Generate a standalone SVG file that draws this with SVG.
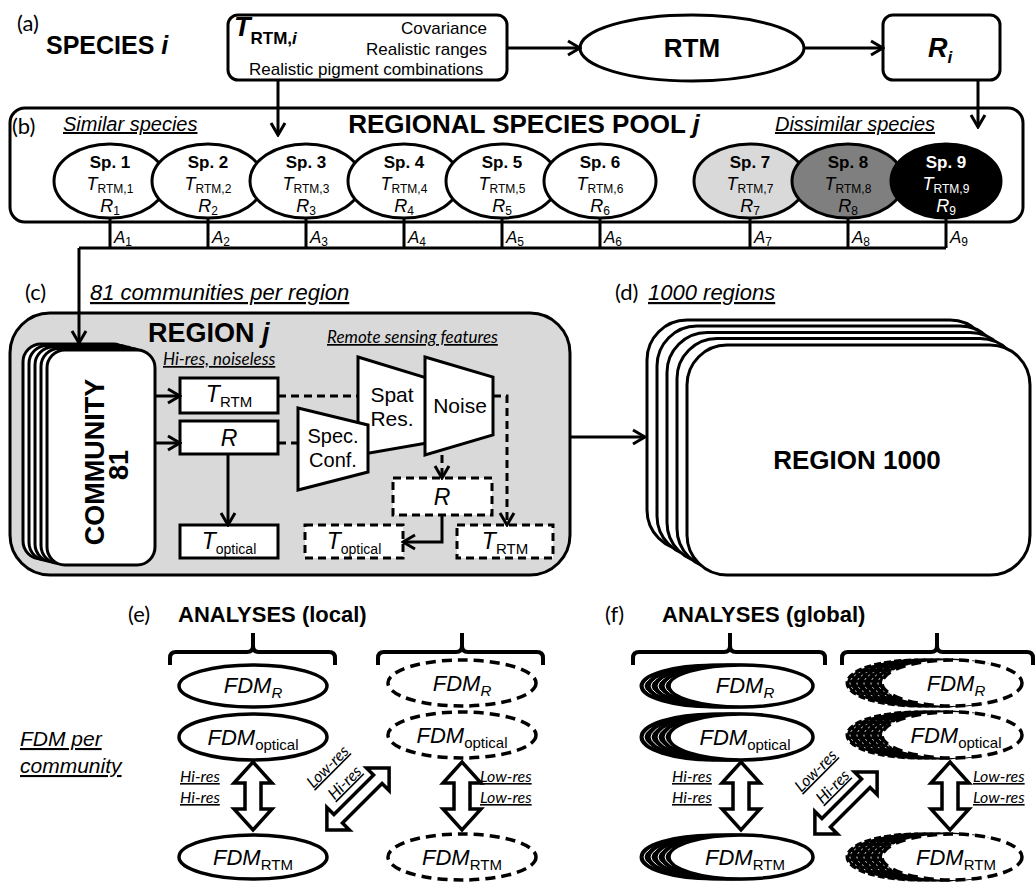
<svg xmlns="http://www.w3.org/2000/svg" width="1035" height="882" viewBox="0 0 1035 882">
<defs>
<style>
.t{font-family:"Liberation Sans",Arial,sans-serif;fill:#000}
.b{font-weight:bold}
.i{font-style:italic}
.n{font-style:normal}
.c{font-family:Lato,"Open Sans",sans-serif;fill:#000}
.u{text-decoration:underline}
.box{fill:#fff;stroke:#000;stroke-width:3}
.dbox{fill:#fff;stroke:#000;stroke-width:3;stroke-dasharray:8 5}
.ln{fill:none;stroke:#000;stroke-width:3}
.dl{fill:none;stroke:#000;stroke-width:3;stroke-dasharray:8 5}
.br{fill:none;stroke:#000;stroke-width:4;stroke-linejoin:round}
.dar{fill:#fff;stroke:#000;stroke-width:3.5;stroke-linejoin:miter}
.fe{fill:#fff;stroke:#000;stroke-width:3.5}
.fd{fill:#fff;stroke:#000;stroke-width:3.5;stroke-dasharray:10 6}
.sh{fill:#000;stroke:#000;stroke-width:3}
.shd{fill:#000;stroke:#000;stroke-width:3;stroke-dasharray:7 3}
.wl{fill:none;stroke:#fff;stroke-width:1}
.wd{fill:none;stroke:#fff;stroke-width:1;stroke-dasharray:2 3}
.sp{font-size:17px}
.st{font-size:18px}
.ss{font-size:12px}
</style>
<marker id="ah" viewBox="0 0 16 18" refX="14" refY="9" markerWidth="16" markerHeight="18" markerUnits="userSpaceOnUse" orient="auto"><path d="M2,2 L14,9 L2,16" fill="none" stroke="#000" stroke-width="3"/></marker>
<path id="va" d="M0,-34 L19,-13 L8,-13 L8,13 L19,13 L0,34 L-19,13 L-8,13 L-8,-13 L-19,-13 Z"/>
<path id="da" d="M-44,0 L-28,-16 L-28,-6 L28,-6 L28,-16 L44,0 L28,16 L28,6 L-28,6 L-28,16 Z"/>
</defs>
<rect width="1035" height="882" fill="#fff"/>

<!-- (a) -->
<g id="species">
<text x="17" y="31" class="c" font-size="22">(a)</text>
<text x="46" y="54" class="t b" font-size="25">SPECIES <tspan class="i">i</tspan></text>
</g>
<g id="traits">
<rect x="228" y="15" width="279" height="65" rx="10" class="box"/>
<text x="234" y="36" class="t b i" font-size="27">T<tspan class="n" font-size="17" dy="8">RTM,</tspan><tspan font-size="17">i</tspan></text>
<text x="487" y="34" class="t" font-size="17" text-anchor="end">Covariance</text>
<text x="487" y="55" class="t" font-size="17" text-anchor="end">Realistic ranges</text>
<text x="249" y="75" class="t" font-size="17">Realistic pigment combinations</text>
</g>
<g id="rtm">
<ellipse cx="692" cy="48" rx="112" ry="33" class="box"/>
<text x="692" y="57" class="t b" font-size="26" text-anchor="middle">RTM</text>
</g>
<g id="refl">
<rect x="883" y="15" width="117" height="65" rx="10" class="box"/>
<text x="940" y="57" class="t b i" font-size="27" text-anchor="middle">R<tspan font-size="17" dy="6">i</tspan></text>
</g>

<!-- (b) -->
<g id="pool">
<rect x="10" y="108" width="1013" height="114" rx="15" class="box"/>
<text x="12" y="134" class="c" font-size="22">(b)</text>
<text x="63" y="131" class="t i u" font-size="20">Similar species</text>
<text x="524" y="133" class="t b" font-size="26" text-anchor="middle">REGIONAL SPECIES POOL <tspan class="i">j</tspan></text>
<text x="935" y="131" class="t i u" font-size="20" text-anchor="end">Dissimilar species</text>
</g>
<g id="sp1"><ellipse cx="110" cy="181" rx="56" ry="37" class="box"/><text x="110" y="168" class="t b sp" text-anchor="middle">Sp. 1</text><text x="110" y="190" class="t i st" text-anchor="middle">T<tspan class="n ss" dy="3">RTM,1</tspan></text><text x="110" y="212" class="t i st" text-anchor="middle">R<tspan class="n ss" dy="3">1</tspan></text></g>
<g id="sp2"><ellipse cx="208" cy="181" rx="56" ry="37" class="box"/><text x="208" y="168" class="t b sp" text-anchor="middle">Sp. 2</text><text x="208" y="190" class="t i st" text-anchor="middle">T<tspan class="n ss" dy="3">RTM,2</tspan></text><text x="208" y="212" class="t i st" text-anchor="middle">R<tspan class="n ss" dy="3">2</tspan></text></g>
<g id="sp3"><ellipse cx="306" cy="181" rx="56" ry="37" class="box"/><text x="306" y="168" class="t b sp" text-anchor="middle">Sp. 3</text><text x="306" y="190" class="t i st" text-anchor="middle">T<tspan class="n ss" dy="3">RTM,3</tspan></text><text x="306" y="212" class="t i st" text-anchor="middle">R<tspan class="n ss" dy="3">3</tspan></text></g>
<g id="sp4"><ellipse cx="404" cy="181" rx="56" ry="37" class="box"/><text x="404" y="168" class="t b sp" text-anchor="middle">Sp. 4</text><text x="404" y="190" class="t i st" text-anchor="middle">T<tspan class="n ss" dy="3">RTM,4</tspan></text><text x="404" y="212" class="t i st" text-anchor="middle">R<tspan class="n ss" dy="3">4</tspan></text></g>
<g id="sp5"><ellipse cx="502" cy="181" rx="56" ry="37" class="box"/><text x="502" y="168" class="t b sp" text-anchor="middle">Sp. 5</text><text x="502" y="190" class="t i st" text-anchor="middle">T<tspan class="n ss" dy="3">RTM,5</tspan></text><text x="502" y="212" class="t i st" text-anchor="middle">R<tspan class="n ss" dy="3">5</tspan></text></g>
<g id="sp6"><ellipse cx="600" cy="181" rx="56" ry="37" class="box"/><text x="600" y="168" class="t b sp" text-anchor="middle">Sp. 6</text><text x="600" y="190" class="t i st" text-anchor="middle">T<tspan class="n ss" dy="3">RTM,6</tspan></text><text x="600" y="212" class="t i st" text-anchor="middle">R<tspan class="n ss" dy="3">6</tspan></text></g>
<g id="sp7"><ellipse cx="750" cy="181" rx="56" ry="37" class="box" style="fill:#d9d9d9"/><text x="750" y="168" class="t b sp" text-anchor="middle">Sp. 7</text><text x="750" y="190" class="t i st" text-anchor="middle">T<tspan class="n ss" dy="3">RTM,7</tspan></text><text x="750" y="212" class="t i st" text-anchor="middle">R<tspan class="n ss" dy="3">7</tspan></text></g>
<g id="sp8"><ellipse cx="848" cy="181" rx="56" ry="37" class="box" style="fill:#7f7f7f"/><text x="848" y="168" class="t b sp" text-anchor="middle">Sp. 8</text><text x="848" y="190" class="t i st" text-anchor="middle">T<tspan class="n ss" dy="3">RTM,8</tspan></text><text x="848" y="212" class="t i st" text-anchor="middle">R<tspan class="n ss" dy="3">8</tspan></text></g>
<g id="sp9"><ellipse cx="946" cy="181" rx="55" ry="37" class="box" style="fill:#000"/><text x="946" y="168" class="t b sp" text-anchor="middle" style="fill:#fff">Sp. 9</text><text x="946" y="190" class="t i st" text-anchor="middle" style="fill:#fff">T<tspan class="n ss" dy="3">RTM,9</tspan></text><text x="946" y="212" class="t i st" text-anchor="middle" style="fill:#fff">R<tspan class="n ss" dy="3">9</tspan></text></g>

<!-- (c) -->
<g id="region-j">
<text x="25" y="300" class="c" font-size="22">(c)</text>
<text x="90" y="300" class="t i u" font-size="22">81 communities per region</text>
<rect x="10" y="313" width="560" height="262" rx="40" class="box" style="fill:#d9d9d9"/>
<text x="148" y="342" class="t b" font-size="27">REGION <tspan class="i">j</tspan></text>
<text x="163" y="365" class="c i u" font-size="17">Hi-res, noiseless</text>
<text x="327" y="343" class="c i u" font-size="17">Remote sensing features</text>
</g>
<g id="community">
<rect x="23" y="344" width="108" height="215" rx="18" class="box"/>
<rect x="29" y="345.5" width="108" height="215" rx="18" class="box"/>
<rect x="35" y="347" width="108" height="215" rx="18" class="box"/>
<rect x="41" y="348.5" width="108" height="215" rx="18" class="box"/>
<rect x="47" y="350" width="108" height="215" rx="18" class="box"/>
<text transform="translate(104,462) rotate(-90)" class="t b" font-size="27" text-anchor="middle">COMMUNITY</text>
<text transform="translate(128,465) rotate(-90)" class="t b" font-size="27" text-anchor="middle">81</text>
</g>
<g id="trtm"><rect x="180" y="378" width="98" height="35" class="box"/><text x="229" y="402" class="t i" font-size="23" text-anchor="middle">T<tspan class="n" font-size="15" dy="5">RTM</tspan></text></g>
<g id="r"><rect x="180" y="421" width="98" height="33" class="box"/><text x="229" y="446" class="t i" font-size="23" text-anchor="middle">R</text></g>
<g id="topt"><rect x="180" y="525" width="98" height="33" class="box"/><text x="229" y="549" class="t i" font-size="23" text-anchor="middle">T<tspan class="n" font-size="14" dy="5">optical</tspan></text></g>
<g id="spatres"><path d="M358,357 L427,378 L427,443 L358,455 Z" class="box"/><text x="392" y="402" class="t" font-size="21" text-anchor="middle">Spat</text><text x="392" y="426" class="t" font-size="21" text-anchor="middle">Res.</text></g>
<g id="noise"><path d="M425,357 L493,377 L493,435 L425,455 Z" class="box"/><text x="460" y="413" class="t" font-size="21" text-anchor="middle">Noise</text></g>
<g id="specconf"><path d="M298,408 L368,425 L368,472 L298,490 Z" class="box"/><text x="333" y="443" class="t" font-size="20" text-anchor="middle">Spec.</text><text x="333" y="467" class="t" font-size="20" text-anchor="middle">Conf.</text></g>
<g id="r-low"><rect x="393" y="478" width="99" height="37" class="dbox"/><text x="442" y="505" class="t i" font-size="23" text-anchor="middle">R</text></g>
<g id="topt-low"><rect x="305" y="525" width="98" height="33" class="dbox"/><text x="354" y="549" class="t i" font-size="23" text-anchor="middle">T<tspan class="n" font-size="14" dy="5">optical</tspan></text></g>
<g id="trtm-low"><rect x="457" y="525" width="96" height="33" class="dbox"/><text x="505" y="549" class="t i" font-size="23" text-anchor="middle">T<tspan class="n" font-size="15" dy="5">RTM</tspan></text></g>

<!-- (d) -->
<g id="regions">
<text x="615" y="300" class="c" font-size="22">(d)</text>
<text x="648" y="300" class="t i u" font-size="22">1000 regions</text>
<rect x="647" y="320" width="343" height="230" rx="40" class="box"/>
<rect x="657" y="326" width="343" height="230" rx="40" class="box"/>
<rect x="667" y="332.5" width="343" height="230" rx="40" class="box"/>
<rect x="677" y="338.5" width="343" height="230" rx="40" class="box"/>
<rect x="687" y="345" width="343" height="230" rx="40" class="box"/>
<text x="857" y="469" class="t b" font-size="26" text-anchor="middle">REGION 1000</text>
</g>

<!-- (e) -->
<g id="analyses-local">
<text x="128" y="622" class="c" font-size="22">(e)</text>
<text x="178" y="622" class="t b" font-size="22">ANALYSES (local)</text>
<path class="br" d="M170,665 V658 Q170,652 176,652 H247 Q253,652 253,646 V633 M253,646 Q253,652 259,652 H329 Q335,652 335,658 V665"/>
<path class="br" d="M378,665 V658 Q378,652 384,652 H456 Q462,652 462,646 V633 M462,646 Q462,652 468,652 H537 Q543,652 543,658 V665"/>
<text x="20" y="746" class="t i u" font-size="21">FDM per</text>
<text x="20" y="773" class="t i u" font-size="21">community</text>
</g>
<g id="e-fdmr"><ellipse cx="253" cy="686" rx="74" ry="21" class="fe"/><text x="253" y="693" class="t i" font-size="22" text-anchor="middle">FDM<tspan font-size="15" dy="5">R</tspan></text></g>
<g id="e-fdmopt"><ellipse cx="253" cy="737" rx="74" ry="23" class="fe"/><text x="253" y="745" class="t i" font-size="22" text-anchor="middle">FDM<tspan class="n" font-size="15" dy="5">optical</tspan></text></g>
<g id="e-fdmrtm"><ellipse cx="253" cy="857" rx="74" ry="22" class="fe"/><text x="253" y="865" class="t i" font-size="22" text-anchor="middle">FDM<tspan class="n" font-size="15" dy="5">RTM</tspan></text></g>
<g id="e-fdmr-low"><ellipse cx="462" cy="683" rx="74" ry="23" class="fd"/><text x="462" y="691" class="t i" font-size="22" text-anchor="middle">FDM<tspan font-size="15" dy="5">R</tspan></text></g>
<g id="e-fdmopt-low"><ellipse cx="462" cy="735" rx="74" ry="23" class="fd"/><text x="462" y="743" class="t i" font-size="22" text-anchor="middle">FDM<tspan class="n" font-size="15" dy="5">optical</tspan></text></g>
<g id="e-fdmrtm-low"><ellipse cx="462" cy="857" rx="74" ry="23" class="fd"/><text x="462" y="865" class="t i" font-size="22" text-anchor="middle">FDM<tspan class="n" font-size="15" dy="5">RTM</tspan></text></g>

<!-- (f) -->
<g id="analyses-global">
<text x="605" y="622" class="c" font-size="22">(f)</text>
<text x="662" y="622" class="t b" font-size="22">ANALYSES (global)</text>
<path class="br" d="M633,665 V658 Q633,652 639,652 H724 Q730,652 730,646 V633 M730,646 Q730,652 736,652 H819 Q825,652 825,658 V665"/>
<path class="br" d="M842,665 V658 Q842,652 848,652 H931 Q937,652 937,646 V633 M937,646 Q937,652 943,652 H1027 Q1033,652 1033,658 V665"/>
</g>
<g id="f-fdmr">
<ellipse cx="713" cy="686" rx="72" ry="21" class="sh"/><ellipse cx="713" cy="686" rx="69" ry="18" class="wl"/>
<ellipse cx="720" cy="686" rx="72" ry="21" class="sh"/><ellipse cx="720" cy="686" rx="69" ry="18" class="wl"/>
<ellipse cx="727" cy="686" rx="72" ry="21" class="sh"/><ellipse cx="727" cy="686" rx="69" ry="18" class="wl"/>
<ellipse cx="734" cy="686" rx="72" ry="21" class="sh"/><ellipse cx="734" cy="686" rx="69" ry="18" class="wl"/>
<ellipse cx="741" cy="686" rx="72" ry="21" class="fe"/><text x="745" y="693" class="t i" font-size="22" text-anchor="middle">FDM<tspan font-size="15" dy="5">R</tspan></text></g>
<g id="f-fdmopt">
<ellipse cx="713" cy="737" rx="72" ry="23" class="sh"/><ellipse cx="713" cy="737" rx="69" ry="20" class="wl"/>
<ellipse cx="720" cy="737" rx="72" ry="23" class="sh"/><ellipse cx="720" cy="737" rx="69" ry="20" class="wl"/>
<ellipse cx="727" cy="737" rx="72" ry="23" class="sh"/><ellipse cx="727" cy="737" rx="69" ry="20" class="wl"/>
<ellipse cx="734" cy="737" rx="72" ry="23" class="sh"/><ellipse cx="734" cy="737" rx="69" ry="20" class="wl"/>
<ellipse cx="741" cy="737" rx="72" ry="23" class="fe"/><text x="745" y="745" class="t i" font-size="22" text-anchor="middle">FDM<tspan class="n" font-size="15" dy="5">optical</tspan></text></g>
<g id="f-fdmrtm">
<ellipse cx="713" cy="857" rx="72" ry="22" class="sh"/><ellipse cx="713" cy="857" rx="69" ry="19" class="wl"/>
<ellipse cx="720" cy="857" rx="72" ry="22" class="sh"/><ellipse cx="720" cy="857" rx="69" ry="19" class="wl"/>
<ellipse cx="727" cy="857" rx="72" ry="22" class="sh"/><ellipse cx="727" cy="857" rx="69" ry="19" class="wl"/>
<ellipse cx="734" cy="857" rx="72" ry="22" class="sh"/><ellipse cx="734" cy="857" rx="69" ry="19" class="wl"/>
<ellipse cx="741" cy="857" rx="72" ry="22" class="fe"/><text x="745" y="865" class="t i" font-size="22" text-anchor="middle">FDM<tspan class="n" font-size="15" dy="5">RTM</tspan></text></g>
<g id="f-fdmr-low">
<ellipse cx="917" cy="683" rx="70" ry="23" class="shd"/><ellipse cx="917" cy="683" rx="67" ry="20" class="wd"/>
<ellipse cx="924" cy="683" rx="70" ry="23" class="shd"/><ellipse cx="924" cy="683" rx="67" ry="20" class="wd"/>
<ellipse cx="931" cy="683" rx="70" ry="23" class="shd"/><ellipse cx="931" cy="683" rx="67" ry="20" class="wd"/>
<ellipse cx="938" cy="683" rx="70" ry="23" class="shd"/><ellipse cx="938" cy="683" rx="67" ry="20" class="wd"/>
<ellipse cx="945" cy="683" rx="70" ry="23" class="shd"/><ellipse cx="945" cy="683" rx="67" ry="20" class="wd"/>
<ellipse cx="952" cy="683" rx="70" ry="23" class="fd"/><text x="956" y="691" class="t i" font-size="22" text-anchor="middle">FDM<tspan font-size="15" dy="5">R</tspan></text></g>
<g id="f-fdmopt-low">
<ellipse cx="917" cy="735" rx="70" ry="23" class="shd"/><ellipse cx="917" cy="735" rx="67" ry="20" class="wd"/>
<ellipse cx="924" cy="735" rx="70" ry="23" class="shd"/><ellipse cx="924" cy="735" rx="67" ry="20" class="wd"/>
<ellipse cx="931" cy="735" rx="70" ry="23" class="shd"/><ellipse cx="931" cy="735" rx="67" ry="20" class="wd"/>
<ellipse cx="938" cy="735" rx="70" ry="23" class="shd"/><ellipse cx="938" cy="735" rx="67" ry="20" class="wd"/>
<ellipse cx="945" cy="735" rx="70" ry="23" class="shd"/><ellipse cx="945" cy="735" rx="67" ry="20" class="wd"/>
<ellipse cx="952" cy="735" rx="70" ry="23" class="fd"/><text x="956" y="743" class="t i" font-size="22" text-anchor="middle">FDM<tspan class="n" font-size="15" dy="5">optical</tspan></text></g>
<g id="f-fdmrtm-low">
<ellipse cx="917" cy="857" rx="70" ry="23" class="shd"/><ellipse cx="917" cy="857" rx="67" ry="20" class="wd"/>
<ellipse cx="924" cy="857" rx="70" ry="23" class="shd"/><ellipse cx="924" cy="857" rx="67" ry="20" class="wd"/>
<ellipse cx="931" cy="857" rx="70" ry="23" class="shd"/><ellipse cx="931" cy="857" rx="67" ry="20" class="wd"/>
<ellipse cx="938" cy="857" rx="70" ry="23" class="shd"/><ellipse cx="938" cy="857" rx="67" ry="20" class="wd"/>
<ellipse cx="945" cy="857" rx="70" ry="23" class="shd"/><ellipse cx="945" cy="857" rx="67" ry="20" class="wd"/>
<ellipse cx="952" cy="857" rx="70" ry="23" class="fd"/><text x="956" y="865" class="t i" font-size="22" text-anchor="middle">FDM<tspan class="n" font-size="15" dy="5">RTM</tspan></text></g>

<!-- connectors -->
<g id="connectors">
<line x1="507" y1="48" x2="580" y2="48" class="ln" marker-end="url(#ah)"/>
<line x1="805" y1="48" x2="883" y2="48" class="ln" marker-end="url(#ah)"/>
<line x1="278" y1="80" x2="278" y2="135" class="ln" marker-end="url(#ah)"/>
<line x1="978" y1="80" x2="978" y2="127" class="ln" marker-end="url(#ah)"/>
<path class="ln" d="M110,218 V248 M208,218 V248 M306,218 V248 M404,218 V248 M502,218 V248 M600,218 V248 M750,218 V248 M848,218 V248 M946,218 V248 M79,248 H946"/>
<line x1="79" y1="248" x2="79" y2="343" class="ln" marker-end="url(#ah)"/>
<g class="t i" font-size="17">
<text x="114" y="243">A<tspan class="n" font-size="12" dy="3">1</tspan></text>
<text x="212" y="243">A<tspan class="n" font-size="12" dy="3">2</tspan></text>
<text x="310" y="243">A<tspan class="n" font-size="12" dy="3">3</tspan></text>
<text x="408" y="243">A<tspan class="n" font-size="12" dy="3">4</tspan></text>
<text x="506" y="243">A<tspan class="n" font-size="12" dy="3">5</tspan></text>
<text x="604" y="243">A<tspan class="n" font-size="12" dy="3">6</tspan></text>
<text x="754" y="243">A<tspan class="n" font-size="12" dy="3">7</tspan></text>
<text x="852" y="243">A<tspan class="n" font-size="12" dy="3">8</tspan></text>
<text x="950" y="243">A<tspan class="n" font-size="12" dy="3">9</tspan></text>
</g>
<line x1="155" y1="396" x2="180" y2="396" class="ln" marker-end="url(#ah)"/>
<line x1="155" y1="443" x2="180" y2="443" class="ln" marker-end="url(#ah)"/>
<line x1="228" y1="454" x2="228" y2="525" class="ln" marker-end="url(#ah)"/>
<line x1="278" y1="396" x2="358" y2="396" class="dl"/>
<line x1="278" y1="443" x2="298" y2="443" class="dl"/>
<path d="M493,396 H507 V525" class="dl" marker-end="url(#ah)"/>
<line x1="442" y1="455" x2="442" y2="478" class="dl" marker-end="url(#ah)"/>
<path d="M442,515 V542 H403" class="ln" marker-end="url(#ah)"/>
<line x1="570" y1="437" x2="645" y2="437" class="ln" marker-end="url(#ah)"/>
<use href="#va" x="253" y="796" class="dar"/>
<use href="#va" x="462" y="796" class="dar"/>
<use href="#va" x="741" y="796" class="dar"/>
<use href="#va" x="950" y="796" class="dar"/>
<use href="#da" transform="translate(358,799) rotate(-45)" class="dar"/>
<use href="#da" transform="translate(846,803) rotate(-45)" class="dar"/>
<g class="c i u" font-size="16">
<text x="180" y="782">Hi-res</text><text x="180" y="803">Hi-res</text>
<text x="480" y="782">Low-res</text><text x="480" y="803">Low-res</text>
<text x="672" y="782">Hi-res</text><text x="672" y="803">Hi-res</text>
<text x="973" y="782">Low-res</text><text x="973" y="803">Low-res</text>
<text transform="translate(328,767) rotate(-45)" x="0" y="5" text-anchor="middle">Low-res</text>
<text transform="translate(345,783) rotate(-45)" x="0" y="5" text-anchor="middle">Hi-res</text>
<text transform="translate(816,771) rotate(-45)" x="0" y="5" text-anchor="middle">Low-res</text>
<text transform="translate(833,787) rotate(-45)" x="0" y="5" text-anchor="middle">Hi-res</text>
</g>
</g>
</svg>
